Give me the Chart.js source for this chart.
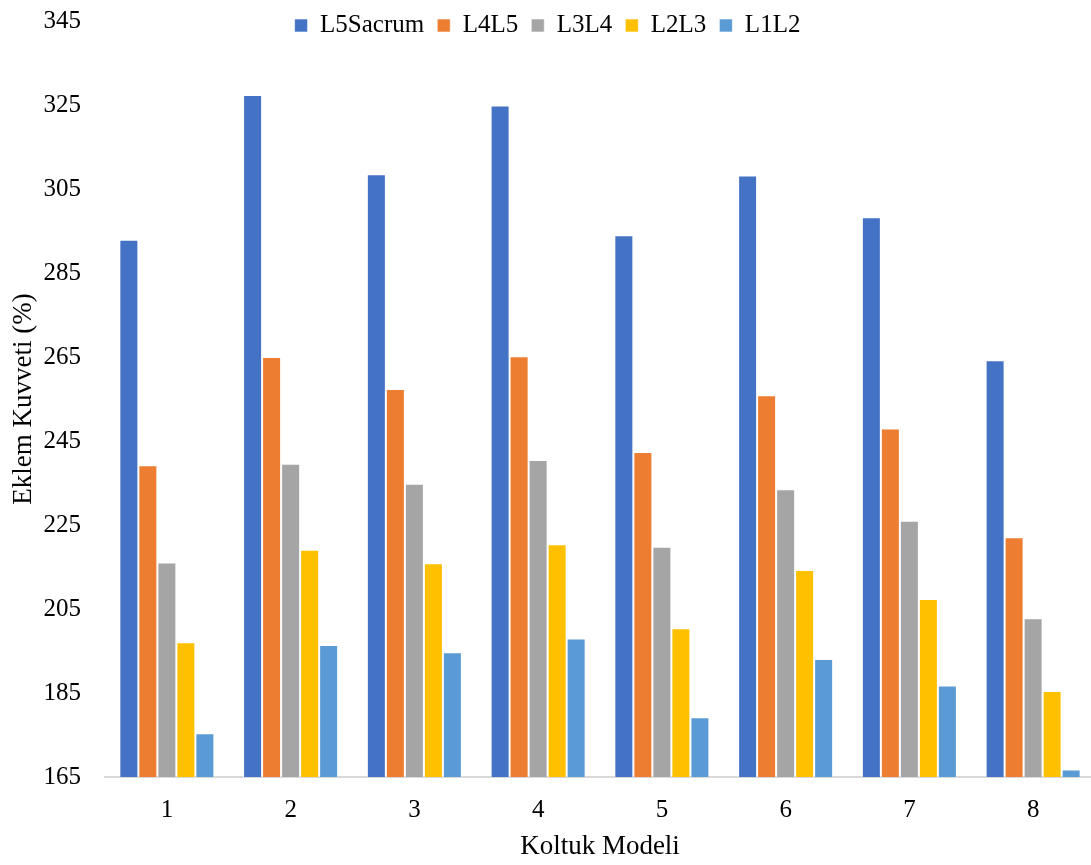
<!DOCTYPE html>
<html>
<head>
<meta charset="utf-8">
<script src="https://cdn.jsdelivr.net/npm/chart.js@4.4.0/dist/chart.umd.min.js"></script>
<style>
html,body{margin:0;padding:0;background:#fff;overflow:hidden;}
#wrap{width:1095px;height:865px;position:relative;}
</style>
</head>
<body>
<div id="wrap"><canvas id="c"></canvas></div>
<script>
const categories = ['1','2','3','4','5','6','7','8'];
const seriesNames = ['L5Sacrum','L4L5','L3L4','L2L3','L1L2'];
const L5Sacrum = [292.9, 327.4, 308.5, 324.9, 294.0, 308.2, 298.3, 264.2];
const L4L5     = [239.2, 265.0, 257.4, 265.2, 242.4, 255.9, 248.0, 222.1];
const L3L4     = [216.1, 239.6, 234.8, 240.5, 219.8, 233.5, 226.0, 202.8];
const L2L3     = [197.1, 219.1, 215.9, 220.4, 200.4, 214.3, 207.4, 185.5];
const L1L2     = [175.4, 196.4, 194.7, 198.0, 179.2, 193.1, 186.8, 166.8];
const yTicks = [165, 185, 205, 225, 245, 265, 285, 305, 325, 345];
const colors = ['#4472C4','#ED7D31','#A5A5A5','#FFC000','#5B9BD5'];

const seriesValues = [L5Sacrum, L4L5, L3L4, L2L3, L1L2];
const FONT = "'Liberation Serif', 'Times New Roman', serif";

const legendOverlay = {
  id: 'legendOverlay',
  beforeUpdate(chart) {
    const lg = chart.legend;
    if (lg && !lg._patched) {
      const fit = lg.fit;
      lg.fit = function () { fit.call(this); this._realHeight = this.height; this.height = 0; };
      lg.draw = function () {
        if (!this.options.display) return;
        const t = this.top, b = this.bottom, h = this.height;
        this.top = 0;
        this.height = this._realHeight || 0;
        this.bottom = this.height;
        this._draw();
        this.top = t; this.bottom = b; this.height = h;
      };
      lg._patched = true;
    }
  }
};

new Chart(document.getElementById('c'), {
  type: 'bar',
  data: {
    labels: categories,
    datasets: seriesNames.map((n, i) => ({
      label: n,
      data: seriesValues[i],
      backgroundColor: colors[i],
      borderColor: 'rgba(255,255,255,0.6)',
      borderWidth: 1,
      categoryPercentage: 0.768,
      barPercentage: 1.0
    }))
  },
  options: {
    responsive: true,
    maintainAspectRatio: false,
    animation: false,
    layout: { padding: { top: 0, right: 0, bottom: 0, left: 0 } },
    plugins: {
      legend: {
        position: 'top',
        labels: {
          font: { family: FONT, size: 25 },
          color: '#000',
          boxWidth: 13,
          boxHeight: 13,
          padding: 13
        }
      },
      tooltip: { enabled: false }
    },
    scales: {
      x: {
        afterFit(scale) { scale.height = 88; },
        grid: { display: false, drawTicks: false },
        border: { display: true, color: '#D9D9D9', width: 2 },
        ticks: { font: { family: FONT, size: 25 }, color: '#000', padding: 18 },
        title: { display: true, text: 'Koltuk Modeli', font: { family: FONT, size: 27 }, color: '#000', padding: { top: 8, bottom: 2 } }
      },
      y: {
        min: 165,
        max: 345,
        afterFit(scale) { scale.width = 105; scale.paddingTop = 21; scale.paddingBottom = 0; },
        afterBuildTicks(scale) { scale.ticks = yTicks.map(v => ({ value: v })); },
        grid: { display: false, drawTicks: false },
        border: { display: false },
        ticks: { font: { family: FONT, size: 25 }, color: '#000', padding: 24 },
        title: { display: true, text: 'Eklem Kuvveti (%)', font: { family: FONT, size: 27 }, color: '#000', padding: { top: 8, bottom: 4 } }
      }
    }
  },
  plugins: [legendOverlay]
});
</script>
</body>
</html>
